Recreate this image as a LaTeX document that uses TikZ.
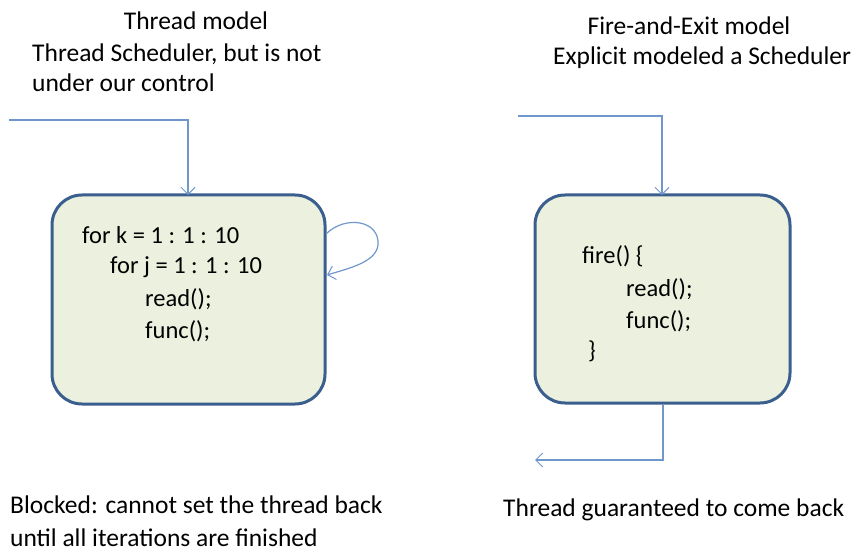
\documentclass[tikz,border=0pt]{standalone}
\usepackage{fontspec}
\setmainfont{Carlito}
\usetikzlibrary{arrows.meta}
\definecolor{boxfill}{HTML}{EBF1DE}
\definecolor{boxline}{HTML}{3A5F8E}
\definecolor{flow}{HTML}{6F97CC}
\tikzset{
  procbox/.style={draw=boxline, line width=3pt, fill=boxfill, rounded corners=30pt},
  flowline/.style={draw=flow, line width=1.2pt, -{Straight Barb[length=7pt,width=14pt,line width=1pt]}},
  caption/.style={font=\fontsize{25.5}{30}\selectfont, inner sep=0pt, anchor=base west},
  code/.style={font=\fontsize{24.5}{29}\selectfont, inner sep=0pt, anchor=base west}
}
\begin{document}
\begin{tikzpicture}[x=1pt,y=-1pt]
\useasboundingbox (0,0) rectangle (859,553);

% left: thread model
\node[caption, anchor=base] (t1) at (196,30) {Thread model};
\node[caption] (t2) at (32,62) {Thread Scheduler, but is not};
\node[caption] (t3) at (32,92) {under our control};

\draw[procbox] (52,195) rectangle (325,404);
\coordinate (lbtop) at (188,195);
\coordinate (lin) at (9,120);
\coordinate (loopout) at (326,234);
\coordinate (loopin) at (327,275);
\draw[flowline] (lin) -| (lbtop);
\draw[flowline] (loopout) .. controls (345,215) and (380,220) .. (378,245)
  .. controls (376,262) and (350,268) .. (loopin);

\node[code] (c1) at (82,244) {for k = 1 : 1 : 10};
\node[code] (c2) at (110,274) {for j = 1 : 1 : 10};
\node[code] (c3) at (145,306) {read();};
\node[code] (c4) at (145,338) {func();};

\node[caption] (b1) at (10,513) {Blocked: cannot set the thread back};
\node[caption] (b2) at (10,546) {until all iterations are finished};

% right: fire-and-exit model
\node[caption, anchor=base] (r1) at (689,35) {Fire-and-Exit model};
\node[caption] (r2) at (553,65) {Explicit modeled a Scheduler};

\draw[procbox] (535,195) rectangle (790,403);
\coordinate (rbtop) at (662,195);
\coordinate (rbbot) at (663,404);
\coordinate (rin) at (518,116);
\coordinate (rout) at (535,460);
\draw[flowline] (rin) -| (rbtop);
\draw[flowline] (rbbot) |- (rout);

\node[code] (f1) at (582,264) {fire() \{};
\node[code] (f2) at (626,296) {read();};
\node[code] (f3) at (626,328) {func();};
\node[code] (f4) at (588,358) {\}};

\node[caption] (g1) at (503,516) {Thread guaranteed to come back};
\end{tikzpicture}
\end{document}
